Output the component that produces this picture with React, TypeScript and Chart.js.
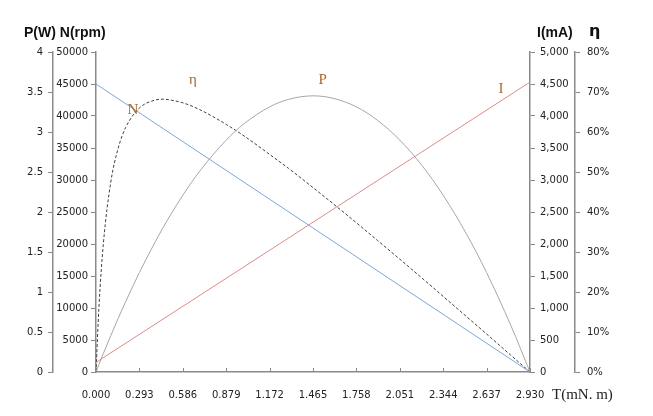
import React, { useEffect, useRef } from "react";
import { Chart, registerables } from "chart.js";

Chart.register(...registerables);

// Torque (mN.m) sample points for the curved series
const torque = [0, 0.02, 0.05, 0.1, 0.15, 0.2, 0.293, 0.4, 0.45, 0.5, 0.586, 0.7, 0.879, 1.0, 1.172, 1.3, 1.465, 1.6, 1.758, 1.9, 2.051, 2.2, 2.344, 2.5, 2.637, 2.8, 2.93];
// Output power P (W)
const power = [0, 0.094, 0.232, 0.455, 0.671, 0.878, 1.243, 1.627, 1.795, 1.954, 2.209, 2.51, 2.899, 3.104, 3.314, 3.408, 3.452, 3.422, 3.314, 3.147, 2.899, 2.583, 2.209, 1.729, 1.243, 0.585, 0];
// Efficiency η (%)
const efficiency = [0, 16.3, 32.2, 47.5, 56.0, 61.1, 66.0, 68.0, 68.2, 68.0, 67.3, 65.6, 61.9, 59.0, 54.4, 50.9, 46.1, 42.1, 37.3, 32.9, 28.2, 23.5, 18.9, 13.9, 9.5, 4.2, 0];
// Linear series
const lineTorque = [0, 2.93];
const speed = [45000, 0]; // N (rpm)
const current = [150, 4530]; // I (mA)

// X tick labels
const xTicks = [0, 0.293, 0.586, 0.879, 1.172, 1.465, 1.758, 2.051, 2.344, 2.637, 2.93];

// Curve labels
const curveLabels = ["N", "η", "P", "I"];
const labelT = [0.25, 0.655, 1.53, 2.735];
const labelValue = [41000, 73, 3.65, 4420];
const labelAxis = ["yN", "yEta", "yP", "yI"];

const pts = (xs: number[], ys: number[]) => xs.map((x, i) => ({ x, y: ys[i] }));

const tickFont = { family: "'DejaVu Sans', sans-serif", size: 10 };
const tickColor = "#222";
const axisColor = "#8a8a8a";

export default function App() {
  const ref = useRef<HTMLCanvasElement | null>(null);
  useEffect(() => {
    if (!ref.current) return;
    const overlay = {
      id: "overlay",
      afterDraw(chart: any) {
        const ctx = chart.ctx;
        const s = chart.scales;
        ctx.save();
        // inner x ticks
        ctx.strokeStyle = axisColor;
        ctx.lineWidth = 1;
        xTicks.forEach((t) => {
          const px = Math.round(s.x.getPixelForValue(t)) + 0.5;
          ctx.beginPath();
          ctx.moveTo(px, s.x.top);
          ctx.lineTo(px, s.x.top - 4);
          ctx.stroke();
        });
        // axis titles
        ctx.fillStyle = "#111";
        ctx.textBaseline = "middle";
        ctx.font = "bold 14px 'Liberation Sans', Arial, sans-serif";
        ctx.textAlign = "left";
        ctx.fillText("P(W) N(rpm)", 24, 33);
        ctx.fillText("I(mA)", 537, 33);
        ctx.font = "bold 16px 'DejaVu Sans', sans-serif";
        ctx.fillText("η", 589, 32);
        ctx.font = "15px 'Liberation Serif', serif";
        ctx.fillStyle = "#222";
        ctx.fillText("T(mN. m)", 552, 395);
        // curve labels
        ctx.font = "15px 'Liberation Serif', serif";
        ctx.fillStyle = "#a86a2a";
        ctx.textAlign = "center";
        curveLabels.forEach((lab, i) => {
          const px = s.x.getPixelForValue(labelT[i]);
          const py = s[labelAxis[i]].getPixelForValue(labelValue[i]);
          ctx.fillText(lab, px, py);
        });
        ctx.restore();
      },
    };
    const yCommon = (pos: string, weight: number, width: number, extra: any) => ({
      type: "linear",
      position: pos,
      weight,
      afterFit: (sc: any) => {
        sc.width = width;
      },
      grid: { drawOnChartArea: false, drawTicks: true, tickLength: 5, color: axisColor },
      border: { display: true, color: axisColor, width: 1.5 },
      ...extra,
    });
    const chart = new Chart(ref.current, {
      type: "line",
      data: {
        datasets: [
          {
            label: "N",
            data: pts(lineTorque, speed),
            yAxisID: "yN",
            borderColor: "#7da7d9",
            borderWidth: 1,
            pointRadius: 0,
          },
          {
            label: "I",
            data: pts(lineTorque, current),
            yAxisID: "yI",
            borderColor: "#e08a8a",
            borderWidth: 1,
            pointRadius: 0,
          },
          {
            label: "P",
            data: pts(torque, power),
            yAxisID: "yP",
            borderColor: "#a6a6a6",
            borderWidth: 1,
            pointRadius: 0,
            cubicInterpolationMode: "monotone",
          },
          {
            label: "η",
            data: pts(torque, efficiency),
            yAxisID: "yEta",
            borderColor: "#404040",
            borderWidth: 1,
            borderDash: [3, 2],
            pointRadius: 0,
            cubicInterpolationMode: "monotone",
          },
        ],
      },
      options: {
        responsive: true,
        maintainAspectRatio: false,
        animation: false,
        layout: { padding: { left: 15, right: 38, top: 52, bottom: 14 } },
        plugins: { legend: { display: false }, tooltip: { enabled: false } },
        scales: {
          x: {
            type: "linear",
            min: 0,
            max: 2.93,
            afterBuildTicks: (sc: any) => {
              sc.ticks = xTicks.map((v) => ({ value: v }));
            },
            afterFit: (sc: any) => {
              sc.height = 30;
            },
            ticks: {
              callback: (v: any) => Number(v).toFixed(3),
              font: tickFont,
              color: tickColor,
              padding: 17,
              maxRotation: 0,
              autoSkip: false,
            },
            grid: { drawOnChartArea: false, drawTicks: false, color: axisColor },
            border: { display: true, color: axisColor, width: 1.5 },
          },
          yP: yCommon("left", 1, 38, {
            min: 0,
            max: 4,
            ticks: {
              stepSize: 0.5,
              font: tickFont,
              color: tickColor,
              padding: 5,
              callback: (v: any) => String(Number(v)),
            },
          }),
          yN: yCommon("left", 0, 43, {
            min: 0,
            max: 50000,
            ticks: {
              stepSize: 5000,
              font: tickFont,
              color: tickColor,
              padding: 3,
              callback: (v: any) => String(v),
            },
          }),
          yI: yCommon("right", 0, 45, {
            min: 0,
            max: 5000,
            ticks: {
              stepSize: 500,
              font: tickFont,
              color: tickColor,
              padding: 5,
              callback: (v: any) => Number(v).toLocaleString("en-US"),
            },
          }),
          yEta: yCommon("right", 1, 40, {
            min: 0,
            max: 80,
            ticks: {
              stepSize: 10,
              font: tickFont,
              color: tickColor,
              padding: 7,
              callback: (v: any) => v + "%",
            },
          }),
        },
      } as any,
      plugins: [overlay],
    } as any);
    return () => chart.destroy();
  }, []);
  return (
    <div style={{ position: "fixed", left: 0, top: 0, width: 653, height: 416, background: "#fff" }}>
      <canvas ref={ref} />
    </div>
  );
}
